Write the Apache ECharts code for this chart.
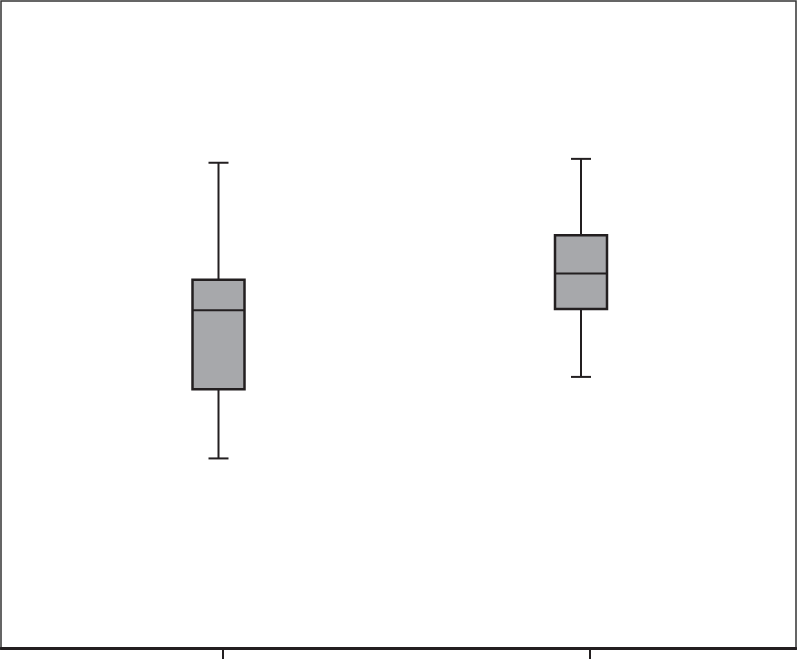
<!DOCTYPE html>
<html>
<head>
<meta charset="utf-8">
<script src="https://cdn.jsdelivr.net/npm/echarts@6/dist/echarts.min.js"></script>
<style>html,body{margin:0;padding:0;background:#fff}#c{width:797px;height:659px}</style>
</head>
<body>
<div id="c"></div>
<script>
const categories = ['A', 'B'];
const lowWhisker = [29.3, 41.9];
const q1 = [40.0, 52.4];
const median = [52.2, 57.9];
const q3 = [56.9, 63.8];
const highWhisker = [75.0, 75.6];
const tickPositions = [1, 2];

const boxData = categories.map((c, i) => [i, lowWhisker[i], q1[i], median[i], q3[i], highWhisker[i]]);

const chart = echarts.init(document.getElementById('c'));
const lineColor = '#231f20';
chart.setOption({
  animation: false,
  grid: [
    { left: 1, right: 1, top: 1, bottom: 11, show: true, borderColor: '#333', borderWidth: 1.5, backgroundColor: '#fff' },
    { left: 37.25, right: 34.75, top: 1, bottom: 11 }
  ],
  xAxis: [
    { type: 'value', gridIndex: 0, min: 0.395, max: 2.564,
      axisLine: { show: true, lineStyle: { color: lineColor, width: 3 } },
      axisTick: { show: true, customValues: tickPositions, length: 11, lineStyle: { color: lineColor, width: 2 } },
      axisLabel: { show: false }, splitLine: { show: false } },
    { type: 'category', gridIndex: 1, data: categories, show: false }
  ],
  yAxis: [
    { type: 'value', gridIndex: 0, min: 0, max: 100, show: false, splitLine: { show: false } },
    { type: 'value', gridIndex: 1, min: 0, max: 100, show: false, splitLine: { show: false } }
  ],
  series: [{
    type: 'custom',
    xAxisIndex: 1,
    yAxisIndex: 1,
    data: boxData,
    renderItem: function (params, api) {
      const xi = api.value(0);
      const pLow = api.coord([xi, api.value(1)]);
      const pQ1 = api.coord([xi, api.value(2)]);
      const pMed = api.coord([xi, api.value(3)]);
      const pQ3 = api.coord([xi, api.value(4)]);
      const pHigh = api.coord([xi, api.value(5)]);
      const cx = pLow[0];
      const half = 26;
      const cap = 10;
      const st = { stroke: lineColor, lineWidth: 2 };
      return {
        type: 'group',
        children: [
          { type: 'line', shape: { x1: cx, y1: pHigh[1], x2: cx, y2: pQ3[1] }, style: st },
          { type: 'line', shape: { x1: cx, y1: pQ1[1], x2: cx, y2: pLow[1] }, style: st },
          { type: 'line', shape: { x1: cx - cap, y1: pHigh[1], x2: cx + cap, y2: pHigh[1] }, style: st },
          { type: 'line', shape: { x1: cx - cap, y1: pLow[1], x2: cx + cap, y2: pLow[1] }, style: st },
          { type: 'rect', shape: { x: cx - half, y: pQ3[1], width: half * 2, height: pQ1[1] - pQ3[1] },
            style: { fill: '#a7a8ab', stroke: lineColor, lineWidth: 2.5 } },
          { type: 'line', shape: { x1: cx - half, y1: pMed[1], x2: cx + half, y2: pMed[1] }, style: st }
        ]
      };
    }
  }]
});
</script>
</body>
</html>
